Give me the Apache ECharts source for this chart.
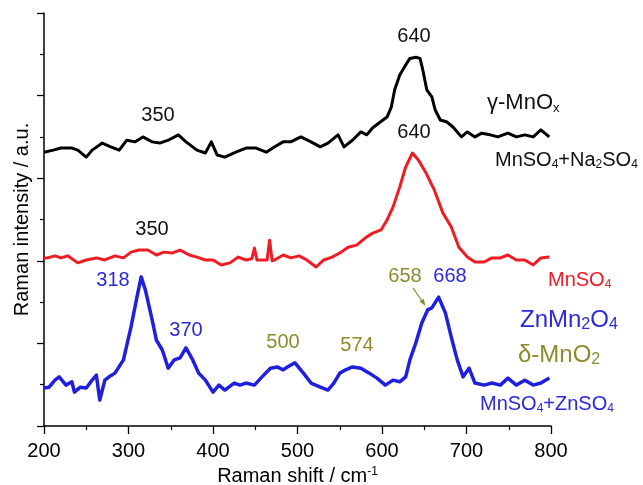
<!DOCTYPE html>
<html>
<head>
<meta charset="utf-8">
<script src="https://cdn.jsdelivr.net/npm/echarts@6/dist/echarts.min.js"></script>
<style>
html,body{margin:0;padding:0;background:#fff;}
#chart{width:643px;height:485px;}
</style>
</head>
<body>
<div id="chart"></div>
<script>
// ---- data (Raman shift cm-1, intensity a.u. with vertical offsets) ----
const xTicks = [200, 300, 400, 500, 600, 700, 800];

const gammaMnOx = [
  [200,6.63],[211,6.68],[220,6.73],[233,6.73],[240,6.68],[250,6.51],[257,6.68],[269,6.85],[279,6.76],[289,6.68],
  [298,6.92],[308,6.88],[317,7.00],[328,6.88],[337,6.85],[347,6.92],[359,7.05],[368,6.88],[381,6.68],[391,6.61],
  [398,6.88],[405,6.56],[414,6.51],[427,6.63],[439,6.73],[451,6.73],[463,6.63],[473,6.76],[483,6.88],[492,6.88],
  [504,7.00],[516,6.88],[527,6.76],[536,6.85],[548,7.05],[555,6.76],[565,6.92],[575,7.12],[582,7.05],[589,7.22],
  [598,7.36],[606,7.48],[611,7.72],[615,8.14],[621,8.50],[628,8.74],[633,8.90],[640,8.93],[645,8.90],[648,8.65],
  [653,8.14],[659,7.97],[663,7.65],[669,7.41],[677,7.36],[684,7.24],[694,7.00],[701,7.12],[710,7.00],[718,7.09],
  [728,7.05],[737,7.00],[749,7.09],[759,7.00],[769,7.05],[779,7.00],[788,7.17],[798,7.00]
];

const mnso4 = [
  [200,4.07],[204,4.07],[213,4.12],[220,4.07],[228,4.12],[240,3.95],[250,4.02],[262,4.07],[272,4.02],[284,4.12],
  [294,4.07],[303,4.21],[312,4.26],[323,4.26],[333,4.14],[342,4.21],[352,4.19],[361,4.26],[372,4.14],[381,4.09],
  [391,4.02],[400,4.02],[410,3.90],[420,3.95],[430,4.09],[439,4.02],[446,4.05],[449,4.31],[452,4.02],[458,4.02],
  [464,4.02],[467,4.50],[470,4.00],[473,4.02],[483,4.14],[492,4.07],[502,4.12],[511,4.02],[522,3.85],[531,4.02],
  [541,4.09],[550,4.19],[560,4.33],[570,4.38],[580,4.55],[589,4.67],[599,4.75],[606,4.99],[613,5.30],[621,5.79],
  [628,6.27],[636,6.61],[643,6.44],[652,6.13],[662,5.71],[672,5.16],[682,4.82],[691,4.33],[701,4.09],[710,3.97],
  [721,3.97],[730,4.07],[740,4.07],[749,4.14],[759,4.02],[769,4.02],[779,3.90],[788,4.07],[798,4.09]
];

const mnso4Znso4 = [
  [200,0.92],[206,0.94],[213,1.11],[218,1.19],[226,0.99],[233,1.07],[236,0.82],[243,0.94],[250,0.92],[257,1.11],
  [262,1.23],[266,0.63],[272,1.11],[277,1.19],[284,1.28],[294,1.60],[303,2.40],[310,3.12],[315,3.61],[320,3.29],
  [328,2.57],[333,2.08],[340,1.84],[347,1.40],[354,1.60],[361,1.65],[368,1.89],[376,1.60],[383,1.28],[391,1.11],
  [400,0.82],[407,0.99],[414,0.87],[425,1.04],[432,0.99],[439,1.04],[449,0.99],[458,1.19],[468,1.40],[476,1.43],
  [483,1.36],[488,1.43],[497,1.53],[507,1.28],[516,1.04],[527,0.94],[536,0.87],[543,1.04],[550,1.28],[557,1.36],
  [565,1.43],[575,1.40],[585,1.28],[594,1.16],[604,0.99],[613,1.11],[621,1.07],[628,1.19],[633,1.60],[640,2.01],
  [647,2.49],[654,2.81],[659,2.86],[667,3.12],[675,2.74],[682,2.15],[689,1.60],[696,1.19],[703,1.40],[710,1.04],
  [721,0.99],[730,1.04],[740,0.99],[749,1.16],[759,0.99],[769,1.11],[779,0.99],[788,1.04],[798,1.16]
];

// ---- styles ----
const FONT = "'Liberation Sans', Arial, sans-serif";
const C_BLACK = '#000000', C_RED = '#ee1c24', C_BLUE = '#1f1fe0', C_OLIVE = '#8c8c2e';
const C_BLUE_T = '#2a2ad8';

function rich(size, color, subRatio) {
  const ss = Math.round(size * (subRatio || 0.6));
  return {
    m: {fontSize: size, fontFamily: FONT, color: color, lineHeight: size + 2},
    s: {fontSize: ss, fontFamily: FONT, color: color, lineHeight: ss,
        padding: [Math.round(size * 0.65), 0, 0, 0], verticalAlign: 'bottom'}
  };
}
function txt(x, y, text, size, color, align, subRatio) {
  return {
    type: 'text', x: x, y: y, z: 100,
    style: {text: text, rich: rich(size, color, subRatio), fill: color, font: size + 'px ' + FONT,
            align: align || 'center', verticalAlign: 'middle'}
  };
}

const chart = echarts.init(document.getElementById('chart'), null, {renderer: 'canvas'});
const option = {
  animation: false,
  backgroundColor: '#ffffff',
  grid: {left: 44, right: 92, top: 13, bottom: 59, containLabel: false, outerBoundsMode: 'none'},
  xAxis: {
    type: 'value', min: 200, max: 800, interval: 100,
    name: 'Raman shift / cm{sup|-1}', nameLocation: 'middle', nameGap: 40,
    nameTextStyle: {fontSize: 20, fontFamily: FONT, color: '#000',
      rich: {sup: {fontSize: 12, fontFamily: FONT, color: '#000', verticalAlign: 'top', padding: [0, 0, 9, 0], lineHeight: 12}}},
    axisLine: {lineStyle: {color: '#000', width: 1.5}},
    axisTick: {inside: false, length: 8, lineStyle: {color: '#000', width: 1.3}},
    minorTick: {show: true, splitNumber: 2, length: 4, lineStyle: {color: '#000', width: 1.2}},
    axisLabel: {fontSize: 20, fontFamily: FONT, color: '#000', margin: 15,
      formatter: function (v) { return xTicks.indexOf(v) >= 0 ? String(v) : ''; }},
    splitLine: {show: false}
  },
  yAxis: {
    type: 'value', min: 0, max: 10, interval: 2,
    name: 'Raman intensity / a.u.', nameLocation: 'middle', nameGap: 12,
    nameTextStyle: {fontSize: 20, fontFamily: FONT, color: '#000'},
    axisLine: {lineStyle: {color: '#000', width: 1.5}},
    axisTick: {inside: false, length: 7, lineStyle: {color: '#000', width: 1.3}},
    minorTick: {show: true, splitNumber: 2, length: 4, lineStyle: {color: '#000', width: 1.2}},
    axisLabel: {show: false},
    splitLine: {show: false}
  },
  series: [
    {type: 'line', name: 'γ-MnOx', data: gammaMnOx, showSymbol: false, smooth: false,
     lineStyle: {color: C_BLACK, width: 3, join: 'round'}, itemStyle: {color: C_BLACK}},
    {type: 'line', name: 'MnSO4', data: mnso4, showSymbol: false, smooth: false,
     lineStyle: {color: C_RED, width: 3, join: 'round'}, itemStyle: {color: C_RED}},
    {type: 'line', name: 'MnSO4+ZnSO4', data: mnso4Znso4, showSymbol: false, smooth: false,
     lineStyle: {color: C_BLUE, width: 3.5, join: 'round'}, itemStyle: {color: C_BLUE}}
  ],
  graphic: [
    txt(414, 36, '{m|640}', 20, '#111'),
    txt(158, 115, '{m|350}', 20, '#111'),
    txt(414, 132, '{m|640}', 20, '#111'),
    txt(152, 229, '{m|350}', 20, '#111'),
    txt(113, 280, '{m|318}', 20, C_BLUE_T),
    txt(186, 330, '{m|370}', 20, C_BLUE_T),
    txt(283, 342, '{m|500}', 20, C_OLIVE),
    txt(357, 345, '{m|574}', 20, C_OLIVE),
    txt(405, 276, '{m|658}', 20, C_OLIVE),
    txt(450, 276, '{m|668}', 20, C_BLUE_T),
    txt(487, 103, '{m|γ-MnO}{s|x}', 22, '#111', 'left'),
    txt(495, 160, '{m|MnSO}{s|4}{m|+Na}{s|2}{m|SO}{s|4}', 20, '#111', 'left'),
    txt(548, 280, '{m|MnSO}{s|4}', 20, C_RED, 'left'),
    txt(520, 320, '{m|ZnMn}{s|2}{m|O}{s|4}', 24, C_BLUE_T, 'left', 0.65),
    txt(518, 355, '{m|δ-MnO}{s|2}', 24, C_OLIVE, 'left', 0.65),
    txt(480, 404, '{m|MnSO}{s|4}{m|+ZnSO}{s|4}', 20, C_BLUE_T, 'left'),
    {type: 'line', z: 100, shape: {x1: 413, y1: 288, x2: 424, y2: 304},
     style: {stroke: C_OLIVE, lineWidth: 1.2}},
    {type: 'polygon', z: 100, shape: {points: [[425.5, 306], [419.5, 301.5], [423.6, 298.7]]},
     style: {fill: C_OLIVE}}
  ]
};
chart.setOption(option);
</script>
</body>
</html>
